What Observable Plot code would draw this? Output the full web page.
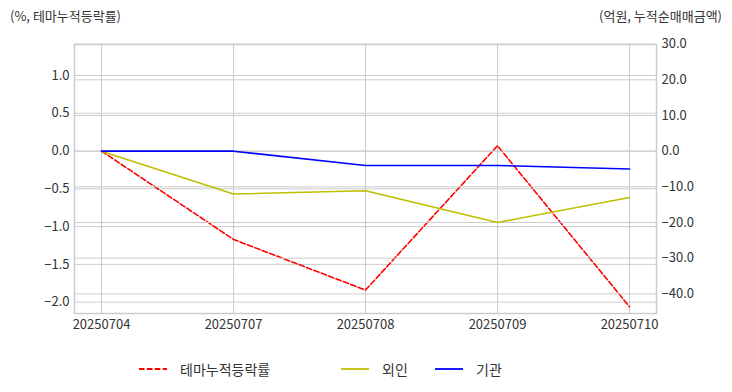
<!DOCTYPE html>
<html>
<head>
<meta charset="utf-8">
<script src="https://cdn.jsdelivr.net/npm/d3@7"></script>
<script src="https://cdn.jsdelivr.net/npm/@observablehq/plot@0.6"></script>
<style>
  html, body { margin: 0; padding: 0; background: #fff; }
  #wrap { position: relative; width: 732px; height: 392px; font-family: "Noto Sans CJK KR", "Noto Sans", sans-serif; color: #333; }
  .layer { position: absolute; left: 0; top: 0; }
  .title { position: absolute; top: 6px; font-size: 13px; color: #333; white-space: nowrap; }
  #legend { position: absolute; top: 359px; left: 0; width: 732px; height: 20px; font-size: 14px; color: #333; }
  .item { position: absolute; top: 0; display: flex; align-items: center; height: 20px; }
  .item svg { margin-right: 12px; }
</style>
</head>
<body>
<div id="wrap">
  <div class="title" style="left:10px">(%, 테마누적등락률)</div>
  <div class="title" style="right:10px">(억원, 누적순매매금액)</div>
  <div id="a" class="layer"></div>
  <div id="b" class="layer"></div>
  <div id="legend"></div>
</div>
<script>
const dates = ["20250704", "20250707", "20250708", "20250709", "20250710"];
const themeRate = [0.0, -1.17, -1.84, 0.07, -2.06];   // % (left axis)
const foreign = [0.0, -12.0, -11.1, -20.0, -13.0];     // 억원 (right axis)
const institution = [0.0, 0.0, -4.0, -4.0, -5.0];       // 억원 (right axis)
const leftTicks = [-2.0, -1.5, -1.0, -0.5, 0.0, 0.5, 1.0];
const rightTicks = [-40, -30, -20, -10, 0, 10, 20, 30];
const seriesNames = ["테마누적등락률", "외인", "기관"];
const colors = ["#ff0000", "#bfbf00", "#0000ff"];

const rowsLeft = dates.map((d, i) => ({date: d, v: themeRate[i]}));
const rowsRight = dates.flatMap((d, i) => [
  {date: d, v: foreign[i], s: seriesNames[1]},
  {date: d, v: institution[i], s: seriesNames[2]}
]);

const W = 732, H = 340;
const common = {
  width: W, height: H,
  marginLeft: 74, marginRight: 76, marginTop: 44, marginBottom: 27,
  style: {fontFamily: '"Noto Sans CJK KR", "Noto Sans", sans-serif', fontSize: "13px", color: "#333", background: "transparent"}
};
const xScale = {type: "point", domain: dates, padding: 0.2045};

const plotA = Plot.plot({
  ...common,
  x: {...xScale, axis: null},
  y: {domain: [-2.15, 1.41], axis: null},
  marks: [
    Plot.gridX(dates, {stroke: "#cccccc", strokeOpacity: 1, strokeWidth: 1}),
    Plot.gridY(leftTicks, {stroke: "#cccccc", strokeOpacity: 1, strokeWidth: 1}),
    Plot.frame({stroke: "#cccccc", strokeWidth: 1.5}),
    Plot.axisX(dates, {tickSize: 0, tickPadding: 6, fontSize: 13, fill: "#333", label: null}),
    Plot.axisY(leftTicks, {anchor: "left", tickSize: 0, tickPadding: 5, tickFormat: d3.format(".1f"), fontSize: 13, fill: "#333", label: null}),
    Plot.line(rowsLeft, {x: "date", y: "v", stroke: colors[0], strokeWidth: 1.6, strokeDasharray: "5.5,2.4"})
  ]
});
document.getElementById("a").appendChild(plotA);

const plotB = Plot.plot({
  ...common,
  x: {...xScale, axis: null},
  y: {domain: [-45.5, 29.9], axis: null},
  color: {domain: seriesNames.slice(1), range: colors.slice(1)},
  marks: [
    Plot.gridY(rightTicks, {stroke: "#cccccc", strokeOpacity: 1, strokeWidth: 1}),
    Plot.axisY(rightTicks, {anchor: "right", tickSize: 0, tickPadding: 5, tickFormat: d3.format(".1f"), fontSize: 13, fill: "#333", label: null}),
    Plot.line(rowsRight, {x: "date", y: "v", z: "s", stroke: "s", strokeWidth: 1.6})
  ]
});
document.getElementById("b").appendChild(plotB);

// legend
const legend = document.getElementById("legend");
const lefts = [138, 340, 434];
seriesNames.forEach((name, i) => {
  const item = document.createElement("div");
  item.className = "item";
  item.style.left = lefts[i] + "px";
  const dash = i === 0 ? 'stroke-dasharray="5.5,2.4"' : "";
  item.innerHTML = `<svg width="30" height="10"><line x1="1" y1="5" x2="29" y2="5" stroke="${colors[i]}" stroke-width="1.8" ${dash}/></svg><span>${name}</span>`;
  legend.appendChild(item);
});
</script>
</body>
</html>
